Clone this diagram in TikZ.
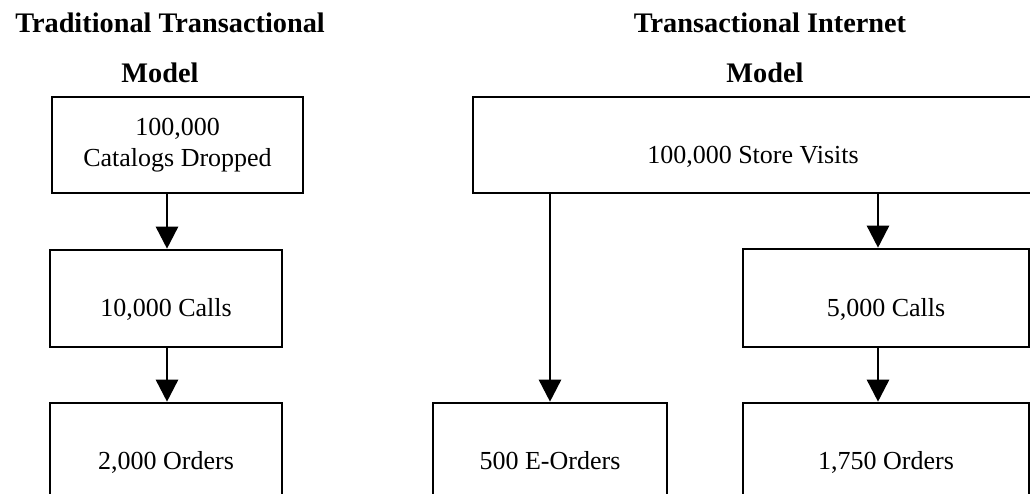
\documentclass[tikz,border=0pt]{standalone}
\usepackage{fontspec}
\setmainfont{Liberation Serif}
\usetikzlibrary{arrows.meta}
\begin{document}
\begin{tikzpicture}[x=1pt,y=-1pt,
  boxbase/.style={draw, line width=2.6pt, rectangle, inner sep=0pt,
    font=\fontsize{26}{31}\selectfont},
  box/.style={boxbase, text height=36pt, text depth=0pt},
  mbox/.style={boxbase, align=center},
  ttl/.style={anchor=base, inner sep=0pt, font=\fontsize{28.3}{34}\selectfont\bfseries},
  arr/.style={line width=2.6pt, -{Triangle[width=22pt,length=22pt]}}]
\useasboundingbox (0,0) rectangle (1030,493);
\clip (0,0) rectangle (1030,493);
% titles
\node[ttl] (t1a) at (170,32) {Traditional Transactional};
\node[ttl] (t1b) at (160,82) {Model};
\node[ttl] (t2a) at (770,32) {Transactional Internet};
\node[ttl] (t2b) at (765,82) {Model};
% left model
\node[mbox, minimum width=251pt, minimum height=96pt] (cat) at (177.5,145) {100,000\\Catalogs Dropped};
\node[box, minimum width=232pt, minimum height=97pt] (calls1) at (166,298.5) {10,000 Calls};
\node[box, minimum width=232pt, minimum height=97pt] (ord1) at (166,451.5) {2,000 Orders};
% right model
\node[box, minimum width=560pt, minimum height=96pt] (visits) at (753,145) {100,000 Store Visits};
\node[box, minimum width=286pt, minimum height=98pt] (calls2) at (886,298) {5,000 Calls};
\node[box, minimum width=286pt, minimum height=97pt] (ord2) at (886,451.5) {1,750 Orders};
\node[box, minimum width=234pt, minimum height=97pt] (eord) at (550,451.5) {500 E-Orders};
\coordinate (c2top) at ([xshift=-8pt]calls2.north);
\coordinate (o2top) at ([xshift=-8pt]ord2.north);
\coordinate (c1top) at ([xshift=1pt]calls1.north);
% connectors
\draw[arr] (cat.south -| c1top) -- (c1top);
\draw[arr] (calls1.south -| c1top) -- ([xshift=1pt]ord1.north);
\draw[arr] (visits.south -| eord.north) -- (eord.north);
\draw[arr] (visits.south -| c2top) -- (c2top);
\draw[arr] (calls2.south -| o2top) -- (o2top);
\end{tikzpicture}
\end{document}
